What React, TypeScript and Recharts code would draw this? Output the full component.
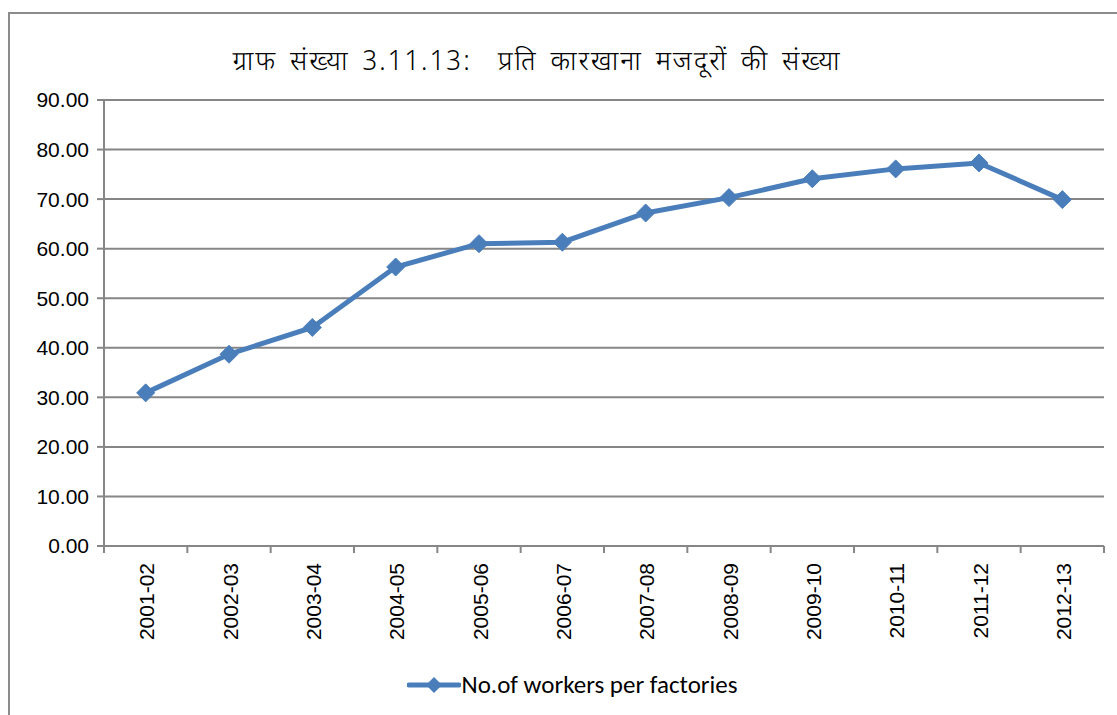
import React from "react";
import { LineChart, Line, XAxis, YAxis, CartesianGrid, Legend } from "recharts";

const categories = ["2001-02", "2002-03", "2003-04", "2004-05", "2005-06", "2006-07", "2007-08", "2008-09", "2009-10", "2010-11", "2011-12", "2012-13"];
const workersPerFactory = [30.9, 38.7, 44.1, 56.3, 61.0, 61.3, 67.2, 70.3, 74.1, 76.1, 77.3, 69.9];
const yTicks = [0, 10, 20, 30, 40, 50, 60, 70, 80, 90];
const seriesName = "No.of workers per factories";
const title = "ग्राफ संख्या 3.11.13:  प्रति कारखाना मजदूरों की संख्या";

const data = categories.map((c, i) => ({ category: c, value: workersPerFactory[i] }));

const BLUE = "#4a7ebb";
const GRID = "#868686";
const AXIS_FONT = "'Liberation Sans', Arial, sans-serif";

const Diamond = (props: any) => {
  const { cx, cy } = props;
  if (cx == null || cy == null) return null;
  const r = 9;
  return <polygon points={`${cx},${cy - r} ${cx + r},${cy} ${cx},${cy + r} ${cx - r},${cy}`} fill={BLUE} stroke={BLUE} />;
};

const XTick = (props: any) => {
  const { x, y, payload, index } = props;
  const half = payload && payload.offset ? payload.offset : 1000 / 24;
  const isLast = index === categories.length - 1;
  return (
    <g>
      <line x1={x - half} y1={y - 8} x2={x - half} y2={y - 1} stroke={GRID} strokeWidth={2} />
      {isLast && <line x1={x + half} y1={y - 8} x2={x + half} y2={y - 1} stroke={GRID} strokeWidth={2} />}
      <text
        x={0}
        y={0}
        transform={`translate(${x + 1},${y + 9}) rotate(-90)`}
        textAnchor="end"
        dominantBaseline="central"
        fontSize={21}
        fontFamily={AXIS_FONT}
        fill="#000"
      >
        {payload.value}
      </text>
    </g>
  );
};

const LegendContent = () => (
  <div style={{ display: "flex", justifyContent: "center", alignItems: "center", height: 30, paddingLeft: 32 }}>
    <svg width={54} height={30}>
      <line x1={2} y1={15} x2={52} y2={15} stroke={BLUE} strokeWidth={5} strokeLinecap="round" />
      <polygon points="27,7 35,15 27,23 19,15" fill={BLUE} />
    </svg>
    <span style={{ fontFamily: "Carlito, Calibri, 'Open Sans', sans-serif", fontSize: 25, color: "#000", marginLeft: 1, lineHeight: "30px" }}>{seriesName}</span>
  </div>
);

export default function App() {
  return (
    <div style={{ position: "absolute", left: 0, top: 0, width: 1117, height: 715, overflow: "hidden", background: "#fff" }}>
      <div style={{ position: "absolute", left: 8, top: 12, width: 1300, height: 900, borderLeft: "2px solid #8c8c8c", borderTop: "2px solid #8c8c8c", boxSizing: "border-box" }} />
      <div style={{ position: "absolute", left: 8, top: 8 }}>
        <LineChart width={1109} height={707} data={data} margin={{ top: 92, right: 13, left: 0, bottom: 15 }}>
          <text
            x={529}
            y={55}
            textAnchor="middle"
            dominantBaseline="central"
            fontSize={27}
            fontWeight={300}
            letterSpacing={1.9}
            wordSpacing={4}
            style={{ whiteSpace: "pre" }}
            fontFamily="'Noto Sans Devanagari', Mangal, 'Noto Sans', sans-serif"
            fill="#000"
          >
            {title}
          </text>
          <CartesianGrid horizontal={true} vertical={false} stroke={GRID} strokeWidth={2} />
          <XAxis
            dataKey="category"
            scale="band"
            height={124}
            axisLine={{ stroke: GRID, strokeWidth: 2 }}
            tickLine={false}
            tick={<XTick />}
            interval={0}
          />
          <YAxis
            width={96}
            domain={[0, 90]}
            ticks={yTicks}
            interval={0}
            tickFormatter={(v: number) => v.toFixed(2)}
            axisLine={{ stroke: GRID, strokeWidth: 2 }}
            tickLine={{ stroke: GRID, strokeWidth: 2 }}
            tickSize={7}
            tickMargin={8}
            tick={{ fontSize: 21, fontFamily: AXIS_FONT, fill: "#000" }}
          />
          <Legend verticalAlign="bottom" align="center" height={30} content={<LegendContent />} />
          <Line
            type="linear"
            dataKey="value"
            name={seriesName}
            stroke={BLUE}
            strokeWidth={5}
            dot={<Diamond />}
            activeDot={false}
            isAnimationActive={false}
          />
        </LineChart>
      </div>
    </div>
  );
}
